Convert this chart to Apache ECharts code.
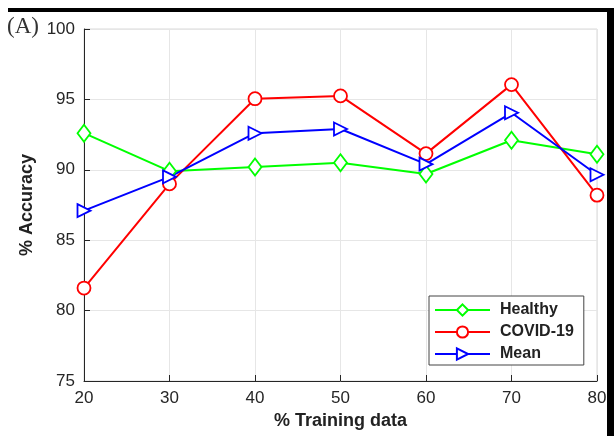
<!DOCTYPE html>
<html><head><meta charset="utf-8">
<script src="https://cdn.jsdelivr.net/npm/echarts@6/dist/echarts.min.js"></script>
<style>html,body{margin:0;padding:0;background:#fff}#c{width:614px;height:436px}</style>
</head><body><div id="c"></div>
<script>
const trainingPct = [20, 30, 40, 50, 60, 70, 80];
const healthy = [92.6, 89.9, 90.2, 90.5, 89.7, 92.1, 91.1];
const covid = [81.6, 89.0, 95.05, 95.25, 91.15, 96.05, 88.2];
const mean = [87.1, 89.5, 92.6, 92.9, 90.4, 94.05, 89.65];
const seriesNames = ['Healthy', 'COVID-19', 'Mean'];
const yTicks = {min: 75, max: 100, step: 5};
const xTicks = {min: 20, max: 80, step: 10};

const chart = echarts.init(document.getElementById('c'), null, {renderer: 'canvas'});
const triRight = 'path://M0,0 L12,6 L0,12 Z';
function mk(name, vals, color, symbol, size) {
  return {
    name: name, type: 'line',
    data: trainingPct.map((x, i) => [x, vals[i]]),
    symbol: symbol, symbolSize: size,
    lineStyle: {color: color, width: 2},
    itemStyle: {color: '#fff', borderColor: color, borderWidth: 1.8},
    color: color,
    emphasis: {disabled: true}, animation: false
  };
}
chart.setOption({
  animation: false,
  grid: {left: 84, right: 17, top: 29, bottom: 55, show: true, borderColor: '#d8d8d8', borderWidth: 1, backgroundColor: '#fff'},
  xAxis: {
    type: 'value', min: xTicks.min, max: xTicks.max, interval: xTicks.step,
    name: '% Training data', nameLocation: 'middle', nameGap: 31,
    nameTextStyle: {fontFamily: 'Liberation Sans', fontWeight: 'bold', fontSize: 18, color: '#222'},
    axisLine: {show: true, lineStyle: {color: '#262626', width: 1}},
    axisTick: {show: true, inside: true, length: 6, lineStyle: {color: '#262626'}},
    axisLabel: {fontFamily: 'Liberation Sans', fontSize: 17, color: '#262626', margin: 9},
    splitLine: {show: true, lineStyle: {color: '#e6e6e6', width: 1}}
  },
  yAxis: {
    type: 'value', min: yTicks.min, max: yTicks.max, interval: yTicks.step,
    name: '% Accuracy', nameLocation: 'middle', nameGap: 46,
    nameTextStyle: {fontFamily: 'Liberation Sans', fontWeight: 'bold', fontSize: 18, color: '#222'},
    axisLine: {show: true, lineStyle: {color: '#262626', width: 1}},
    axisTick: {show: true, inside: true, length: 6, lineStyle: {color: '#262626'}},
    axisLabel: {fontFamily: 'Liberation Sans', fontSize: 17, color: '#262626', margin: 9},
    splitLine: {show: true, lineStyle: {color: '#e6e6e6', width: 1}}
  },
  legend: {
    orient: 'vertical', left: 429, top: 296,
    data: seriesNames,
    backgroundColor: '#fff', borderColor: '#444', borderWidth: 1,
    padding: [6, 10, 3, 5], itemWidth: 55, itemHeight: 14, itemGap: 6,
    textStyle: {fontFamily: 'Liberation Sans', fontWeight: 'bold', fontSize: 16, color: '#222', padding: [0, 0, 0, 5]}
  },
  series: [
    mk(seriesNames[0], healthy, '#00ff00', 'diamond', [13, 17]),
    mk(seriesNames[1], covid, '#ff0000', 'circle', 13),
    mk(seriesNames[2], mean, '#0000ff', triRight, 13)
  ],
  graphic: [
    {type: 'text', left: 7, top: 15, z: 100, style: {text: '(A)', fontFamily: 'Liberation Serif', fontSize: 23, fill: '#333'}},
    {type: 'rect', z: 100, shape: {x: 8, y: 8, width: 606, height: 4}, style: {fill: '#000'}},
    {type: 'rect', z: 100, shape: {x: 607, y: 8, width: 7, height: 428}, style: {fill: '#000'}}
  ]
});
</script></body></html>
